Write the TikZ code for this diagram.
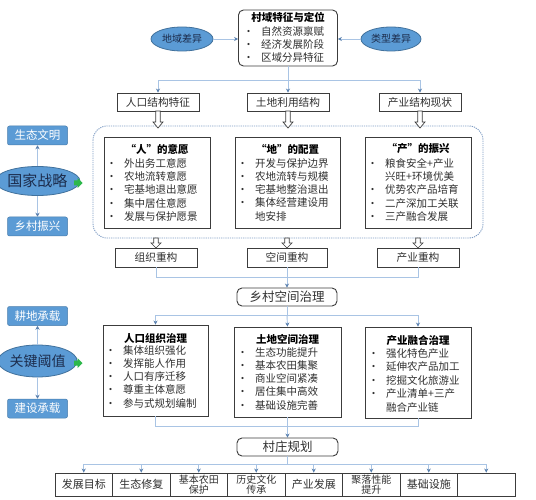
\documentclass[tikz,border=0pt]{standalone}
\usepackage{fontspec}
\setmainfont{Noto Sans CJK SC}
\usetikzlibrary{arrows.meta,shapes.geometric}
\definecolor{linec}{HTML}{A9C4E4}
\definecolor{tipc}{HTML}{5A80AE}
\definecolor{boxc}{HTML}{3C3C3C}
\definecolor{bluef}{HTML}{5B9BD5}
\definecolor{blued}{HTML}{41719C}
\definecolor{dotc}{HTML}{7E9CC4}
\definecolor{txtc}{HTML}{303030}
\definecolor{elltxt}{HTML}{1C2C4C}
\definecolor{greenc}{HTML}{2DB84B}
\newcommand{\bitem}[1]{\makebox[20pt][l]{\hspace{7.5pt}\makebox[0pt][c]{•}}#1}
\newcommand{\bcont}[1]{\hspace*{20pt}#1}
\begin{document}
\begin{tikzpicture}[x=1pt,y=-1pt,
  conn/.style={draw=linec, line width=0.9pt},
  arr/.style={-{Stealth[length=4pt,width=4pt,color=tipc]}},
  plainbox/.style={draw=boxc, line width=0.9pt, fill=white, inner sep=0, text=txtc},
  roundbox/.style={plainbox, rounded corners=5pt},
  lbl/.style={plainbox, minimum width=82pt, minimum height=18pt, font=\fontsize{10.7}{12}\selectfont},
  bigbox/.style={plainbox, minimum width=106pt, minimum height=91pt},
  botbox/.style={plainbox, minimum width=57.5pt, minimum height=23pt, align=center, font=\fontsize{10}{10}\selectfont},
  bluerect/.style={fill=bluef, draw=blued!70!bluef, line width=0.5pt, rounded corners=2pt, text=white, minimum width=60pt, minimum height=19pt, inner sep=0, font=\fontsize{11.5}{12}\selectfont},
  blueell/.style={ellipse, fill=bluef, draw=blued, line width=0.8pt, inner sep=0, text=elltxt},
  ttl/.style={font=\fontsize{10.5}{12}\selectfont\bfseries, inner sep=0, text=black},
  lst/.style={font=\fontsize{10.5}{13.3}\selectfont, align=left, inner sep=0, anchor=north west, text=txtc},
  hollowL/.pic={\draw[draw=boxc, line width=0.7pt, fill=white] (-2.2,0) -- (2.2,0) -- (2.2,11) -- (5,11) -- (0,17) -- (-5,11) -- (-2.2,11) -- cycle;},
  hollowS/.pic={\draw[draw=boxc, line width=0.7pt, fill=white] (-2.2,0) -- (2.2,0) -- (2.2,5) -- (5,5) -- (0,10) -- (-5,5) -- (-2.2,5) -- cycle;},
  greenarr/.pic={\fill[greenc] (0,-2.5) -- (3.5,-2.5) -- (3.5,-5) -- (8.5,0) -- (3.5,5) -- (3.5,2.5) -- (0,2.5) -- cycle;}
]
\useasboundingbox (0,0) rectangle (536,500);
\fill[white] (0,0) rectangle (536,500);

% ---------- top ----------
\node[roundbox, minimum width=99pt, minimum height=56pt] (top) at (288,38) {};
\node[ttl] (toptitle) at (288,17) {村域特征与定位};
\node[lst, font=\fontsize{10.5}{13}\selectfont] (toplist) at (241,26) {\bitem{自然资源禀赋}\\\bitem{经济发展阶段}\\\bitem{区域分异特征}};
\node[blueell, minimum width=62pt, minimum height=24pt, font=\fontsize{10}{11}\selectfont] (dy) at (182,39) {地域差异};
\node[blueell, minimum width=60pt, minimum height=24pt, font=\fontsize{10}{11}\selectfont] (lx) at (391,39) {类型差异};
\draw[conn,arr] (dy.east) -- (dy.east -| top.west);
\draw[conn,arr] (lx.west) -- (lx.west -| top.east);

\node[lbl] (renkou) at (158,102) {人口结构特征};
\node[lbl] (tudi) at (288,102) {土地利用结构};
\node[lbl] (chanye) at (420,102) {产业结构现状};
\coordinate (j1) at (288,80);
\draw[conn,arr] (top.south) -- (tudi.north);
\draw[conn,arr] (j1) -| (renkou.north);
\draw[conn,arr] (j1) -| (chanye.north);

% ---------- dotted region ----------
\draw[draw=dotc, line width=0.9pt, dash pattern=on 1.2pt off 1pt, rounded corners=14pt] (93,126) rectangle (483,238);
\pic at (158,111) {hollowL};
\pic at (288,111) {hollowL};
\pic at (420,111) {hollowL};

\node[bigbox] (ren) at (157,182.5) {};
\node[ttl] (rent) at (157,149) {“人”的意愿};
\node[lst] (renl) at (104,158) {\bitem{外出务工意愿}\\\bitem{农地流转意愿}\\\bitem{宅基地退出意愿}\\\bitem{集中居住意愿}\\\bitem{发展与保护愿景}};

\node[bigbox, minimum width=105pt] (di) at (287.5,182.5) {};
\node[ttl] (dit) at (287.5,149) {“地”的配置};
\node[lst] (dil) at (235,158) {\bitem{开发与保护边界}\\\bitem{农地流转与规模}\\\bitem{宅基地整治退出}\\\bitem{集体经营建设用}\\\bcont{地安排}};

\node[bigbox] (chan) at (418,182.5) {};
\node[ttl] (chant) at (418,149) {“产”的振兴};
\node[lst] (chanl) at (365,158) {\bitem{粮食安全+产业}\\\bcont{兴旺+环境优美}\\\bitem{优势农产品培育}\\\bitem{二产深加工关联}\\\bitem{三产融合发展}};

\pic at (156,238) {hollowS};
\pic at (287,238) {hollowS};
\pic at (418,238) {hollowS};
\node[lbl, minimum height=19pt] (zz) at (156,257.5) {组织重构};
\node[lbl, minimum width=80pt, minimum height=19pt] (kj) at (287,257.5) {空间重构};
\node[lbl, minimum height=19pt] (cy) at (418,257.5) {产业重构};

% ---------- left column 1 ----------
\node[bluerect] (stwm) at (37.5,135.5) {生态文明};
\node[blueell, minimum width=68pt, minimum height=29pt, font=\fontsize{15}{16}\selectfont] (gjzl) at (37.5,181) {国家战略};
\node[bluerect] (xczx) at (37.5,226.5) {乡村振兴};
\draw[conn,arr] (gjzl.north) -- (stwm.south);
\draw[conn,arr] (gjzl.south) -- (xczx.south |- xczx.north);
\pic at (74,183) {greenarr};

% ---------- governance ----------
\coordinate (j2) at (287,277);
\draw[conn] (zz.south) -- (zz.south |- j2) -- (cy.south |- j2) -- (cy.south);
\node[roundbox, minimum width=100pt, minimum height=18pt, font=\fontsize{12.5}{13}\selectfont] (xczl) at (287,297) {乡村空间治理};
\draw[conn,arr] (kj.south) -- (xczl.north);

\node[bigbox, minimum width=105pt] (rkzz) at (155.5,370.5) {};
\node[ttl] (rkzzt) at (155.5,338) {人口组织治理};
\node[lst] (rkzzl) at (103,345) {\bitem{集体组织强化}\\\bitem{发挥能人作用}\\\bitem{人口有序迁移}\\\bitem{尊重主体意愿}\\\bitem{参与式规划编制}};

\node[bigbox, minimum width=107pt, minimum height=90pt] (tdkj) at (287.5,372) {};
\node[ttl] (tdkjt) at (287.5,339) {土地空间治理};
\node[lst] (tdkjl) at (235,347) {\bitem{生态功能提升}\\\bitem{基本农田集聚}\\\bitem{商业空间紧凑}\\\bitem{居住集中高效}\\\bitem{基础设施完善}};

\node[bigbox] (cyrh) at (418,372.5) {};
\node[ttl] (cyrht) at (418,341) {产业融合治理};
\node[lst, font=\fontsize{10.5}{13.5}\selectfont] (cyrhl) at (366,348) {\bitem{强化特色产业}\\\bitem{延伸农产品加工}\\\bitem{挖掘文化旅游业}\\\bitem{产业清单+三产}\\\bcont{融合产业链}};

\coordinate (j3) at (287,315);
\draw[conn] (xczl.south) -- (j3);
\draw[conn,arr] (j3) -- (tdkj.north);
\draw[conn,arr] (j3) -| (rkzz.north);
\draw[conn,arr] (j3) -| (cyrh.north);

% ---------- left column 2 ----------
\node[bluerect] (gdcz) at (37.5,316) {耕地承载};
\node[blueell, minimum width=65pt, minimum height=32pt, font=\fontsize{14}{15}\selectfont] (gjfz) at (37.5,361) {关键阈值};
\node[bluerect] (jscz) at (37.5,408.5) {建设承载};
\draw[conn,arr] (gjfz.north) -- (gdcz.south);
\draw[conn,arr] (gjfz.south) -- (jscz.north);
\pic at (74,363) {greenarr};

% ---------- village planning ----------
\coordinate (j4) at (287.5,426);
\draw[conn] (rkzz.south) -- (rkzz.south |- j4) -- (cyrh.south |- j4) -- (cyrh.south);
\node[roundbox, minimum width=101pt, minimum height=18pt, font=\fontsize{12.5}{13}\selectfont] (cz) at (287.5,447) {村庄规划};
\draw[conn,arr] (tdkj.south) -- (cz.north);

\node[botbox, font=\fontsize{11}{11}\selectfont] (b1) at (83.75,484.5) {发展目标};
\node[botbox, font=\fontsize{11}{11}\selectfont] (b2) at (141.25,484.5) {生态修复};
\node[botbox] (b3) at (198.75,484.5) {基本农田\\保护};
\node[botbox] (b4) at (256.25,484.5) {历史文化\\传承};
\node[botbox, font=\fontsize{11}{11}\selectfont] (b5) at (313.75,484.5) {产业发展};
\node[botbox] (b6) at (371.25,484.5) {聚落性能\\提升};
\node[botbox, font=\fontsize{11}{11}\selectfont] (b7) at (428.75,484.5) {基础设施};
\node[botbox] (b8) at (486.25,484.5) {};

\coordinate (j5) at (287.5,464);
\draw[conn] (cz.south) -- (j5);
\draw[conn] (b1.north |- j5) -- (b8.north |- j5);
\foreach \i in {1,...,8} {\draw[conn,arr] (b\i.north |- j5) -- (b\i.north);}
\end{tikzpicture}
\end{document}
